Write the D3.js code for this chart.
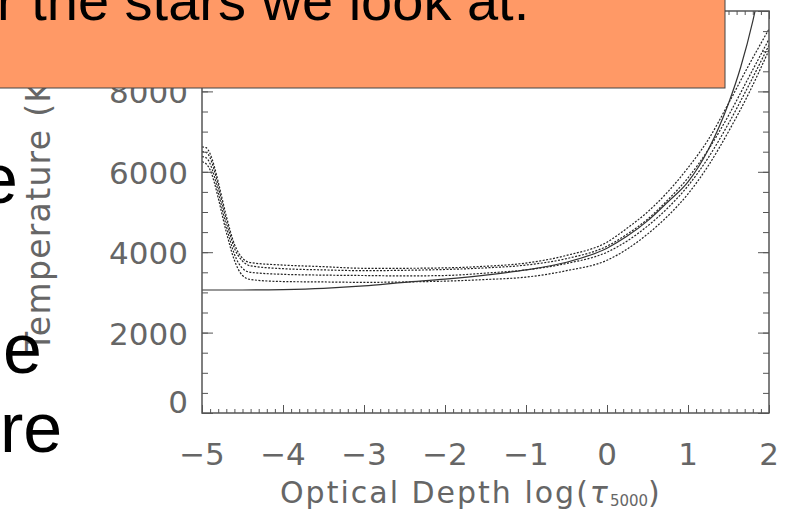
<!DOCTYPE html>
<html>
<head>
<meta charset="utf-8">
<script src="https://cdn.jsdelivr.net/npm/d3@7"></script>
<style>
  body { margin: 0; background: #fff; }
  svg { display: block; }
  .tick-label { font-family: "DejaVu Sans", sans-serif; font-weight: 400; fill: #666; }
  .slide { font-family: "Liberation Sans", Arial, sans-serif; fill: #000; }
</style>
</head>
<body>
<div id="chart"></div>
<script>
// chart size
var svgWidth = 793;
var svgHeight = 515;

// plot frame in pixels
var frame = { left: 202, right: 769, top: 11, bottom: 413 };

// tick values
var xTicks = [-5, -4, -3, -2, -1, 0, 1, 2];
var yTicks = [0, 2000, 4000, 6000, 8000, 10000];

// solid model (log tau, temperature K)
var tauSolid = [-5, -4.5, -4, -3.5, -3, -2.5, -2, -1.5, -1, -0.5, 0, 0.25, 0.5, 0.75, 1, 1.25, 1.5, 1.65, 1.8, 1.85];
var tempSolid = [3060, 3060, 3070, 3100, 3160, 3250, 3330, 3430, 3560, 3750, 4100, 4400, 4780, 5250, 5750, 6550, 7700, 8600, 9750, 10200];

// dotted models share one tau grid
var tauDotted = [-5, -4.95, -4.9, -4.85, -4.8, -4.7, -4.6, -4.5, -4.4, -4, -3.5, -3, -2.5, -2, -1.5, -1, -0.5, 0, 0.25, 0.5, 0.75, 1, 1.25, 1.5, 1.75, 2];
var tempDotA = [6620, 6600, 6450, 6150, 5750, 4900, 4200, 3850, 3740, 3680, 3640, 3600, 3600, 3610, 3650, 3730, 3920, 4250, 4600, 5000, 5500, 6100, 6800, 7700, 8650, 9550];
var tempDotB = [6500, 6480, 6350, 6050, 5650, 4800, 4100, 3780, 3660, 3590, 3560, 3540, 3550, 3570, 3610, 3680, 3840, 4150, 4450, 4820, 5300, 5850, 6550, 7400, 8350, 9300];
var tempDotC = [6380, 6350, 6200, 5900, 5500, 4650, 3950, 3600, 3500, 3450, 3430, 3420, 3410, 3420, 3480, 3560, 3720, 4000, 4280, 4650, 5100, 5650, 6350, 7200, 8150, 9150];
var tempDotD = [6250, 6200, 6050, 5750, 5350, 4500, 3800, 3420, 3320, 3270, 3260, 3250, 3260, 3280, 3320, 3380, 3540, 3800, 4080, 4450, 4900, 5450, 6150, 7000, 7950, 9030];

var svg = d3.select("#chart")
  .append("svg")
  .attr("width", svgWidth)
  .attr("height", svgHeight);

var x = d3.scaleLinear().domain([-5, 2]).range([frame.left, frame.right]);
var y = d3.scaleLinear().domain([0, 10000]).range([frame.bottom, frame.top]);

// clip curves to the frame
svg.append("clipPath").attr("id", "plotclip")
  .append("rect")
  .attr("x", frame.left).attr("y", frame.top)
  .attr("width", frame.right - frame.left)
  .attr("height", frame.bottom - frame.top);

var line = d3.line()
  .x(d => x(d[0]))
  .y(d => y(d[1]))
  .curve(d3.curveMonotoneX);

var curves = svg.append("g").attr("clip-path", "url(#plotclip)");

[tempDotA, tempDotB, tempDotC, tempDotD].forEach(function(temps) {
  curves.append("path")
    .datum(tauDotted.map((t, i) => [t, temps[i]]))
    .attr("d", line)
    .attr("fill", "none")
    .attr("stroke", "#222")
    .attr("stroke-width", 1.2)
    .attr("stroke-dasharray", "2,1.5");
});

curves.append("path")
  .datum(tauSolid.map((t, i) => [t, tempSolid[i]]))
  .attr("d", line)
  .attr("fill", "none")
  .attr("stroke", "#333")
  .attr("stroke-width", 1.2);

// frame
var axisColor = "#555";
svg.append("rect")
  .attr("x", frame.left).attr("y", frame.top)
  .attr("width", frame.right - frame.left)
  .attr("height", frame.bottom - frame.top)
  .attr("fill", "none")
  .attr("stroke", axisColor)
  .attr("stroke-width", 1.5);

var xMinor = d3.range(-50, 21).map(d => d / 10);
var yMinor = d3.range(0, 10001, 500);

function addTicks(axis) {
  svg.append("g")
    .attr("transform", axis.t)
    .call(axis.gen)
    .call(g => g.select(".domain").remove())
    .call(g => g.selectAll("line").attr("stroke", axisColor).attr("stroke-width", 1));
}

// bottom & top ticks point inside
addTicks({ t: `translate(0,${frame.bottom})`, gen: d3.axisBottom(x).tickValues(xMinor).tickSize(-4).tickFormat("") });
addTicks({ t: `translate(0,${frame.bottom})`, gen: d3.axisBottom(x).tickValues(xTicks).tickSize(-8).tickFormat("") });
addTicks({ t: `translate(0,${frame.top})`, gen: d3.axisTop(x).tickValues(xMinor).tickSize(-4).tickFormat("") });
addTicks({ t: `translate(0,${frame.top})`, gen: d3.axisTop(x).tickValues(xTicks).tickSize(-8).tickFormat("") });
// left & right
addTicks({ t: `translate(${frame.left},0)`, gen: d3.axisLeft(y).tickValues(yMinor).tickSize(-6).tickFormat("") });
addTicks({ t: `translate(${frame.left},0)`, gen: d3.axisLeft(y).tickValues(yTicks).tickSize(-11).tickFormat("") });
addTicks({ t: `translate(${frame.right},0)`, gen: d3.axisRight(y).tickValues(yMinor).tickSize(-6).tickFormat("") });
addTicks({ t: `translate(${frame.right},0)`, gen: d3.axisRight(y).tickValues(yTicks).tickSize(-11).tickFormat("") });

// x tick labels
svg.append("g").selectAll("text")
  .data(xTicks)
  .enter()
  .append("text")
  .attr("class", "tick-label")
  .attr("x", d => x(d))
  .attr("y", 465)
  .attr("text-anchor", "middle")
  .style("font-size", "31px")
  .text(d => d < 0 ? "\u2212" + Math.abs(d) : d);

// y tick labels (IDL lifts the zero label off the axis)
svg.append("g").selectAll("text")
  .data(yTicks)
  .enter()
  .append("text")
  .attr("class", "tick-label")
  .attr("x", 188)
  .attr("y", d => d === 0 ? y(d) : y(d) + 12)
  .attr("text-anchor", "end")
  .style("font-size", "31px")
  .text(d => d);

// axis titles
var xTitle = svg.append("text")
  .attr("class", "tick-label")
  .attr("x", 280)
  .attr("y", 503)
  .style("font-size", "30px")
  .style("letter-spacing", "2px");
xTitle.append("tspan").text("Optical Depth log(");
xTitle.append("tspan").style("font-style", "oblique").text("\u03c4");
xTitle.append("tspan").style("font-size", "15px").style("letter-spacing", "0px").attr("dy", 3).text("5000");
xTitle.append("tspan").attr("dy", -3).text(")");

svg.append("text")
  .attr("class", "tick-label")
  .attr("transform", "translate(50,352) rotate(-90)")
  .style("font-size", "33px")
  .style("letter-spacing", "1.3px")
  .text("Temperature (K)");

// slide text around the chart
svg.append("text").attr("class", "slide").attr("x", -21).attr("y", 203).style("font-size", "70px").text("e");
svg.append("text").attr("class", "slide").attr("x", 3).attr("y", 373).style("font-size", "70px").text("e");
svg.append("text").attr("class", "slide").attr("x", 0).attr("y", 452).style("font-size", "70px").text("re");

// orange callout box over the top
svg.append("rect")
  .attr("x", -2).attr("y", -2)
  .attr("width", 727).attr("height", 90)
  .attr("fill", "#FF9966")
  .attr("stroke", "#444")
  .attr("stroke-width", 1);

svg.append("text")
  .attr("class", "slide")
  .attr("x", -3)
  .attr("y", 20)
  .style("font-size", "56px")
  .text("r the stars we look at.");
</script>
</body>
</html>
